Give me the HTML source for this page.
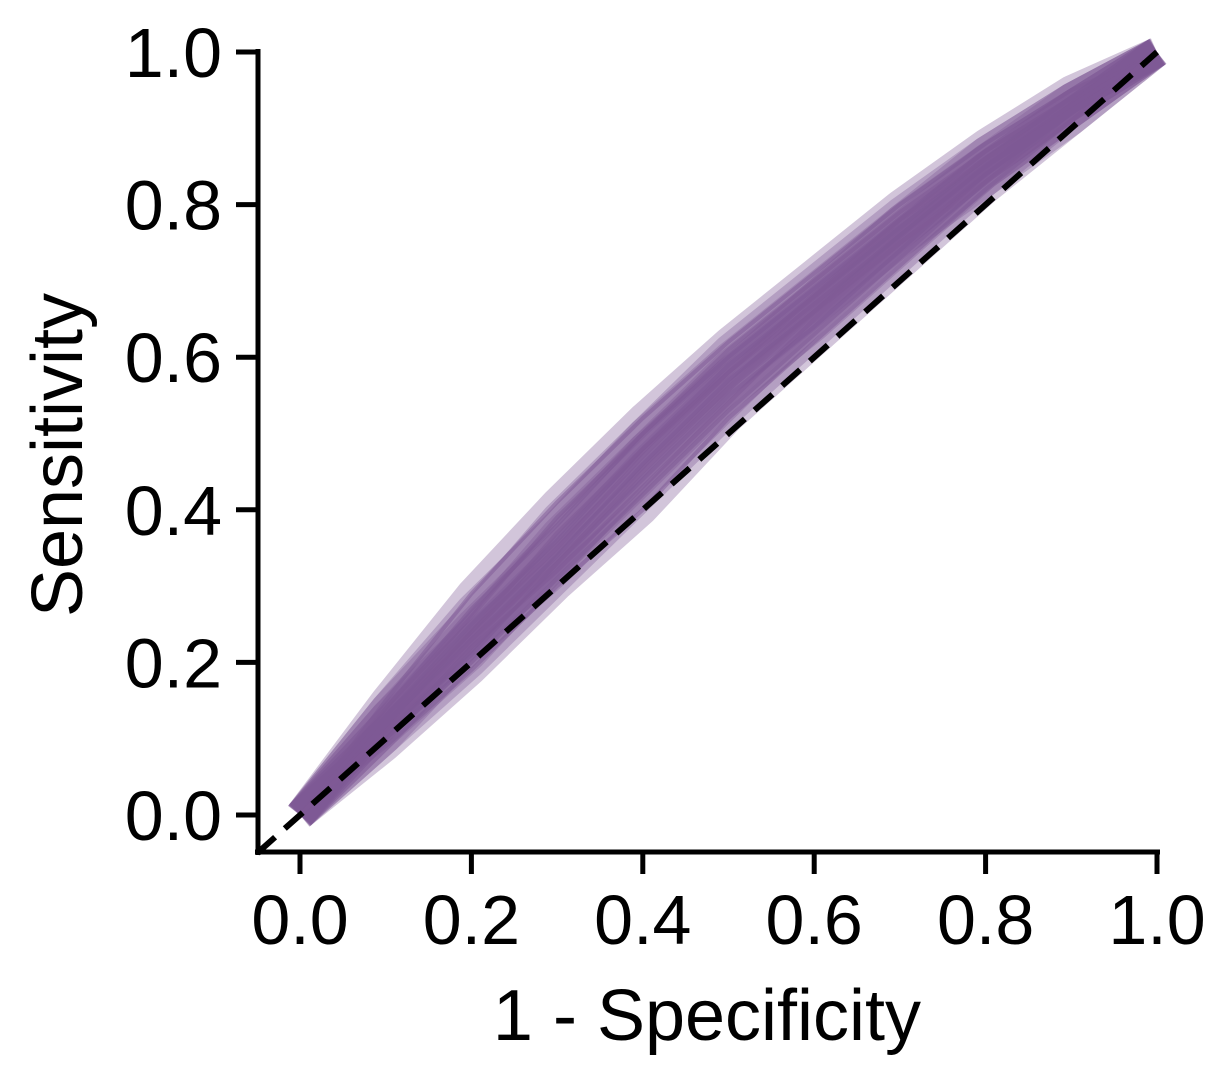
<!DOCTYPE html>
<html><head><meta charset="utf-8"><style>
body{margin:0;background:#fff;}
svg text{font-family:"Liberation Sans","DejaVu Sans",sans-serif;fill:#000;}
</style></head><body>
<svg id="chart" width="1230" height="1080" viewBox="0 0 1230 1080" xmlns="http://www.w3.org/2000/svg">
<g id="curves"></g>
<g id="axes"></g>
</svg>
<script>
const fprGrid = [0,0.1,0.2,0.3,0.4,0.5,0.6,0.7,0.8,0.9,1];
const tprCurves = [
 [0,.14,.27,.38,.50,.60,.69,.78,.87,.94,1],
 [0,.12,.23,.34,.46,.57,.66,.76,.85,.93,1],
 [0,.10,.20,.31,.42,.53,.63,.73,.83,.92,1],
 [0,.13,.25,.36,.48,.59,.68,.77,.86,.94,1],
 [0,.11,.21,.33,.44,.55,.64,.74,.84,.92,1],
 [0,.15,.29,.41,.52,.62,.71,.80,.88,.95,1],
 [0,.09,.19,.30,.40,.52,.62,.72,.82,.91,1],
 [0,.12,.24,.35,.47,.58,.67,.76,.85,.93,1],
 [0,.14,.26,.39,.50,.61,.70,.79,.87,.94,1],
 [0,.10,.22,.32,.43,.54,.65,.75,.84,.92,1],
 [0,.13,.24,.37,.48,.58,.68,.78,.86,.93,1],
 [0,.11,.23,.33,.45,.56,.66,.75,.83,.91,1]
];
const xTicks = [0,0.2,0.4,0.6,0.8,1.0];
const yTicks = [0,0.2,0.4,0.6,0.8,1.0];
const tickLabels = ["0.0","0.2","0.4","0.6","0.8","1.0"];

const NS="http://www.w3.org/2000/svg";
const xs = v => 300 + v*857;
const ys = v => 815 - v*763;
const curves=document.getElementById('curves');
const axes=document.getElementById('axes');
function mk(tag,attrs,parent){const e=document.createElementNS(NS,tag);for(const k in attrs)e.setAttribute(k,attrs[k]);parent.appendChild(e);return e;}

tprCurves.forEach((c,i)=>{
  let d='';
  c.forEach((t,j)=>{
    d+=(j===0?'M':' L')+xs(fprGrid[j])+','+ys(t);
  });
  const wide=mk('path',{d:d,fill:'none',stroke:'#7f5a96','stroke-opacity':'0.35','stroke-width':'30','stroke-linejoin':'round','stroke-linecap':'butt'},curves);
  
  
  const p=mk('path',{d:d,fill:'none',stroke:'#7f5a96','stroke-opacity':'0.5','stroke-width':'4'},curves);
  
  
});

const diag=mk('line',{x1:xs(-0.05),y1:ys(-0.05),x2:xs(1),y2:ys(1),stroke:'#000','stroke-width':'6','stroke-dasharray':'24,13'},axes);



const xl=mk('line',{x1:255,y1:852,x2:1160,y2:852,stroke:'#000','stroke-width':'5'},axes);


const yl=mk('line',{x1:258,y1:49,x2:258,y2:855,stroke:'#000','stroke-width':'5'},axes);



xTicks.forEach((v,i)=>{
  const t=mk('line',{x1:xs(v),y1:852,x2:xs(v),y2:874,stroke:'#000','stroke-width':'5'},axes);
  
  
  const l=mk('text',{x:xs(v),y:944,'text-anchor':'middle',style:'font-size:70px'},axes);
  l.textContent=tickLabels[i];
  
  
});
yTicks.forEach((v,i)=>{
  const t=mk('line',{x1:236,y1:ys(v),x2:258,y2:ys(v),stroke:'#000','stroke-width':'5'},axes);
  
  
  const l=mk('text',{x:222,y:ys(v)+25,'text-anchor':'end',style:'font-size:70px'},axes);
  l.textContent=tickLabels[i];
  
  
});
const xt=mk('text',{x:707,y:1040,'text-anchor':'middle',style:'font-size:72px'},axes);
xt.textContent='1 - Specificity';


const yt=mk('text',{x:0,y:0,'text-anchor':'middle',transform:'translate(82,455) rotate(-90)',style:'font-size:72px'},axes);
yt.textContent='Sensitivity';


</script>
</body></html>
